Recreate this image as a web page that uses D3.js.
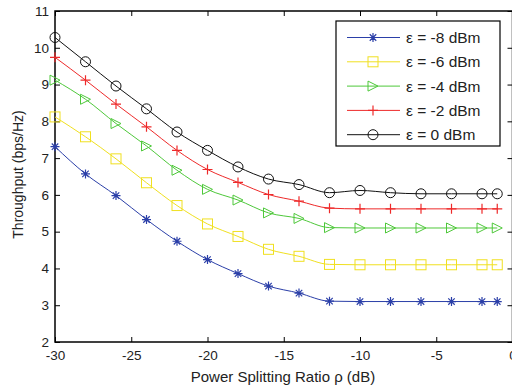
<!DOCTYPE html>
<html>
<head>
<meta charset="utf-8">
<script src="https://cdn.jsdelivr.net/npm/d3@7"></script>
<style>
  body { margin: 0; background: #fff; }
  svg { display: block; font-family: "Liberation Sans", Arial, sans-serif; }
</style>
</head>
<body>
<svg id="chart" width="512" height="389"></svg>
<script>
// power splitting ratio (dB)
var rho = [-30, -28, -26, -24, -22, -20, -18, -16, -14, -12, -10, -8, -6, -4, -2, -1];

var eps8 = [7.31, 6.57, 5.98, 5.33, 4.74, 4.24, 3.86, 3.52, 3.33, 3.11, 3.1, 3.1, 3.1, 3.1, 3.1, 3.1];
var eps6 = [8.12, 7.58, 6.98, 6.33, 5.71, 5.21, 4.87, 4.52, 4.33, 4.11, 4.1, 4.1, 4.1, 4.1, 4.1, 4.1];
var eps4 = [9.12, 8.6, 7.94, 7.33, 6.67, 6.15, 5.86, 5.51, 5.36, 5.11, 5.1, 5.1, 5.1, 5.1, 5.1, 5.1];
var eps2 = [9.74, 9.12, 8.47, 7.85, 7.21, 6.69, 6.34, 6.01, 5.83, 5.64, 5.62, 5.62, 5.62, 5.62, 5.62, 5.62];
var eps0 = [10.28, 9.62, 8.96, 8.34, 7.71, 7.21, 6.76, 6.43, 6.28, 6.06, 6.12, 6.06, 6.03, 6.03, 6.03, 6.03];

var seriesNames = ["\u03b5 = -8 dBm", "\u03b5 = -6 dBm", "\u03b5 = -4 dBm", "\u03b5 = -2 dBm", "\u03b5 = 0 dBm"];
var seriesColors = ["#2b3fa8", "#f0e020", "#4ec83a", "#ee2a2a", "#111111"];
var seriesMarkers = ["star", "square", "triangle", "plus", "circle"];
var seriesValues = [eps8, eps6, eps4, eps2, eps0];

var xTicks = [-30, -25, -20, -15, -10, -5, 0];
var yTicks = [2, 3, 4, 5, 6, 7, 8, 9, 10, 11];

var svg = d3.select("#chart"),
    pLeft = 55, pRight = 512.5, pTop = 11, pBottom = 342;

var x = d3.scaleLinear().domain([-30, 0]).range([pLeft, pRight]);
var y = d3.scaleLinear().domain([2, 11]).range([pBottom, pTop]);

var plain = function (d) { return String(d); };

// axes, matlab style: ticks inside, box all round
function styleAxis(g) {
    g.select(".domain").remove();
    g.selectAll("line").attr("stroke", "#000");
    g.selectAll("text").attr("fill", "#222").style("font-size", "13.5px");
}

svg.append("g")
    .attr("transform", "translate(0," + pBottom + ")")
    .call(d3.axisBottom(x).tickValues(xTicks).tickSize(-5).tickPadding(8).tickFormat(plain))
    .call(styleAxis);

svg.append("g")
    .attr("transform", "translate(0," + pTop + ")")
    .call(d3.axisTop(x).tickValues(xTicks).tickSize(-5).tickFormat(""))
    .call(styleAxis);

svg.append("g")
    .attr("transform", "translate(" + pLeft + ",0)")
    .call(d3.axisLeft(y).tickValues(yTicks).tickSize(-5).tickPadding(6).tickFormat(plain))
    .call(styleAxis);

svg.append("g")
    .attr("transform", "translate(" + pRight + ",0)")
    .call(d3.axisRight(y).tickValues(yTicks).tickSize(-5).tickFormat(""))
    .call(styleAxis);

svg.append("rect")
    .attr("x", pLeft).attr("y", pTop)
    .attr("width", pRight - pLeft).attr("height", pBottom - pTop)
    .attr("fill", "none").attr("stroke", "#000").attr("stroke-width", 1.5);

svg.append("text")
    .attr("transform", "translate(23," + ((pTop + pBottom) / 2 - 2) + ") rotate(-90)")
    .attr("text-anchor", "middle")
    .attr("fill", "#222")
    .style("font-size", "14px")
    .text("Throughput (bps/Hz)");

svg.append("text")
    .attr("x", 283)
    .attr("y", 382)
    .attr("text-anchor", "middle")
    .attr("fill", "#222")
    .style("font-size", "15px")
    .text("Power Splitting Ratio \u03c1 (dB)");

function drawMarker(g, type, cx, cy, color) {
    var s = 5;
    if (type === "circle") {
        g.append("circle").attr("cx", cx).attr("cy", cy).attr("r", s)
            .attr("fill", "none").attr("stroke", color).attr("stroke-width", 1);
    } else if (type === "square") {
        g.append("rect").attr("x", cx - s).attr("y", cy - s)
            .attr("width", 2 * s).attr("height", 2 * s)
            .attr("fill", "none").attr("stroke", color).attr("stroke-width", 1);
    } else if (type === "triangle") {
        g.append("polygon")
            .attr("points", [[cx - s, cy - s], [cx + s, cy], [cx - s, cy + s]].map(function (p) { return p.join(","); }).join(" "))
            .attr("fill", "none").attr("stroke", color).attr("stroke-width", 1);
    } else if (type === "plus") {
        g.append("path")
            .attr("d", "M" + (cx - s) + "," + cy + "H" + (cx + s) + "M" + cx + "," + (cy - s) + "V" + (cy + s))
            .attr("stroke", color).attr("stroke-width", 1.2);
    } else if (type === "star") {
        var r = 4.5, d = r * 0.72;
        g.append("path")
            .attr("d", "M" + (cx - r) + "," + cy + "H" + (cx + r) +
                "M" + cx + "," + (cy - r) + "V" + (cy + r) +
                "M" + (cx - d) + "," + (cy - d) + "L" + (cx + d) + "," + (cy + d) +
                "M" + (cx - d) + "," + (cy + d) + "L" + (cx + d) + "," + (cy - d))
            .attr("stroke", color).attr("stroke-width", 1.2);
    }
}

var line = d3.line()
    .x(function (d, i) { return x(rho[i]); })
    .y(function (d) { return y(d); })
    .curve(d3.curveMonotoneX);

seriesValues.forEach(function (vals, k) {
    var g = svg.append("g");
    g.append("path")
        .attr("d", line(vals))
        .attr("fill", "none")
        .attr("stroke", seriesColors[k])
        .attr("stroke-width", 1);
    vals.forEach(function (v, i) {
        drawMarker(g, seriesMarkers[k], x(rho[i]), y(v), seriesColors[k]);
    });
});

// legend
var lg = svg.append("g");
lg.append("rect")
    .attr("x", 336).attr("y", 21).attr("width", 164).attr("height", 125)
    .attr("fill", "#fff").attr("stroke", "#000").attr("stroke-width", 1.2);

seriesNames.forEach(function (name, k) {
    var ly = 37.5 + k * 24.3;
    lg.append("line")
        .attr("x1", 347).attr("x2", 400).attr("y1", ly).attr("y2", ly)
        .attr("stroke", seriesColors[k]).attr("stroke-width", 1);
    drawMarker(lg, seriesMarkers[k], 373, ly, seriesColors[k]);
    lg.append("text")
        .attr("x", 406).attr("y", ly + 5.5)
        .attr("fill", "#222")
        .style("font-size", "15.5px")
        .text(name);
});
</script>
</body>
</html>
